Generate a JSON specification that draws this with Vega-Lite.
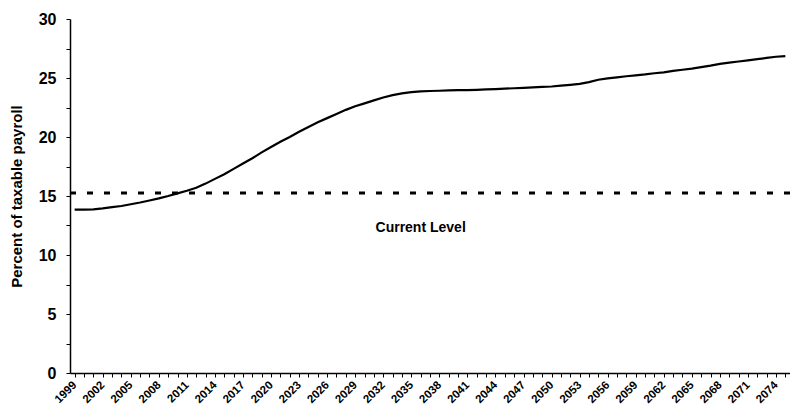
{
  "$schema": "https://vega.github.io/schema/vega-lite/v6.json",
  "width": 720,
  "height": 354,
  "autosize": "none",
  "padding": {"left": 70, "top": 19, "right": 0, "bottom": 42},
  "background": "white",
  "config": {
    "view": {"stroke": null},
    "font": "Liberation Sans",
    "axis": {"grid": false, "domainColor": "black", "tickColor": "black", "labelColor": "black", "titleColor": "black", "labelFont": "Liberation Sans", "titleFont": "Liberation Sans", "labelFontWeight": "bold", "titleFontWeight": "bold"}
  },
  "datasets": {
    "cost": [
      {"year": 1999, "rate": 13.85}, {"year": 2000, "rate": 13.85}, {"year": 2001, "rate": 13.87},
      {"year": 2002, "rate": 13.95}, {"year": 2003, "rate": 14.05}, {"year": 2004, "rate": 14.15},
      {"year": 2005, "rate": 14.3}, {"year": 2006, "rate": 14.45}, {"year": 2007, "rate": 14.62},
      {"year": 2008, "rate": 14.8}, {"year": 2009, "rate": 15.0}, {"year": 2010, "rate": 15.22},
      {"year": 2011, "rate": 15.45}, {"year": 2012, "rate": 15.7}, {"year": 2013, "rate": 16.05},
      {"year": 2014, "rate": 16.45}, {"year": 2015, "rate": 16.85}, {"year": 2016, "rate": 17.3},
      {"year": 2017, "rate": 17.75}, {"year": 2018, "rate": 18.2}, {"year": 2019, "rate": 18.7},
      {"year": 2020, "rate": 19.15}, {"year": 2021, "rate": 19.6}, {"year": 2022, "rate": 20.0},
      {"year": 2023, "rate": 20.45}, {"year": 2024, "rate": 20.85}, {"year": 2025, "rate": 21.25},
      {"year": 2026, "rate": 21.6}, {"year": 2027, "rate": 21.95}, {"year": 2028, "rate": 22.3},
      {"year": 2029, "rate": 22.6}, {"year": 2030, "rate": 22.85}, {"year": 2031, "rate": 23.1},
      {"year": 2032, "rate": 23.35}, {"year": 2033, "rate": 23.55}, {"year": 2034, "rate": 23.7},
      {"year": 2035, "rate": 23.8}, {"year": 2036, "rate": 23.87}, {"year": 2037, "rate": 23.9},
      {"year": 2038, "rate": 23.92}, {"year": 2039, "rate": 23.95}, {"year": 2040, "rate": 23.97},
      {"year": 2041, "rate": 23.98}, {"year": 2042, "rate": 24.0}, {"year": 2043, "rate": 24.03},
      {"year": 2044, "rate": 24.06}, {"year": 2045, "rate": 24.1}, {"year": 2046, "rate": 24.13},
      {"year": 2047, "rate": 24.17}, {"year": 2048, "rate": 24.2}, {"year": 2049, "rate": 24.24},
      {"year": 2050, "rate": 24.28}, {"year": 2051, "rate": 24.35}, {"year": 2052, "rate": 24.42},
      {"year": 2053, "rate": 24.5}, {"year": 2054, "rate": 24.65}, {"year": 2055, "rate": 24.85},
      {"year": 2056, "rate": 24.97}, {"year": 2057, "rate": 25.06}, {"year": 2058, "rate": 25.15},
      {"year": 2059, "rate": 25.22}, {"year": 2060, "rate": 25.3}, {"year": 2061, "rate": 25.4},
      {"year": 2062, "rate": 25.48}, {"year": 2063, "rate": 25.6}, {"year": 2064, "rate": 25.7},
      {"year": 2065, "rate": 25.8}, {"year": 2066, "rate": 25.92}, {"year": 2067, "rate": 26.05},
      {"year": 2068, "rate": 26.2}, {"year": 2069, "rate": 26.3}, {"year": 2070, "rate": 26.4},
      {"year": 2071, "rate": 26.5}, {"year": 2072, "rate": 26.6}, {"year": 2073, "rate": 26.7},
      {"year": 2074, "rate": 26.8}, {"year": 2075, "rate": 26.86}
    ],
    "current": [
      {"rate": 15.25}
    ],
    "note": [
      {"year": 2036, "rate": 12.3, "label": "Current Level"}
    ]
  },
  "resolve": {"axis": {"x": "independent", "y": "independent"}},
  "layer": [
    {
      "data": {"name": "cost"},
      "mark": {"type": "line", "color": "black", "strokeWidth": 2.2},
      "encoding": {
        "x": {
          "field": "year", "type": "ordinal",
          "scale": {"type": "point", "padding": 0.5},
          "axis": {
            "title": null,
            "labelExpr": "(datum.value - 1999) % 3 == 0 ? datum.label : ''",
            "labelAngle": -45,
            "labelAlign": "right",
            "labelBaseline": "middle",
            "labelFontSize": 11.5,
            "labelPadding": 6,
            "labelOverlap": false,
            "labelFlush": false,
            "labelBound": false,
            "tickSize": 4,
            "domainWidth": 1.5,
            "tickWidth": 1
          }
        },
        "y": {
          "field": "rate", "type": "quantitative",
          "scale": {"domain": [0, 30], "nice": false},
          "axis": {
            "title": "Percent of taxable payroll",
            "titleFontSize": 15,
            "titlePadding": 14,
            "values": [0, 2.5, 5, 7.5, 10, 12.5, 15, 17.5, 20, 22.5, 25, 27.5, 30],
            "labelExpr": "datum.value % 5 == 0 ? datum.label : ''",
            "labelFontSize": 16,
            "labelPadding": 10,
            "labelOverlap": false,
            "labelFlush": false,
            "tickSize": 4,
            "domainWidth": 1.5
          }
        }
      }
    },
    {
      "data": {"name": "current"},
      "mark": {"type": "rule", "color": "black", "strokeWidth": 3, "strokeDash": [6, 11]},
      "encoding": {
        "y": {"field": "rate", "type": "quantitative", "axis": null}
      }
    },
    {
      "data": {"name": "note"},
      "mark": {"type": "text", "fontSize": 14, "fontWeight": "bold", "color": "black", "font": "Liberation Sans"},
      "encoding": {
        "x": {"field": "year", "type": "ordinal", "axis": null},
        "y": {"field": "rate", "type": "quantitative", "axis": null},
        "text": {"field": "label"}
      }
    }
  ]
}
